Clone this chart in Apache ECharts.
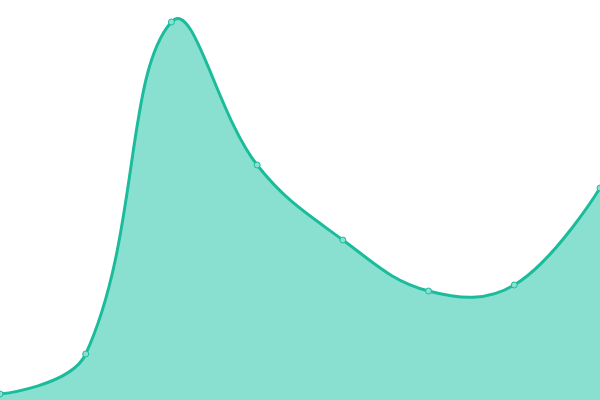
<!DOCTYPE html>
<html><head><meta charset="utf-8">
<script src="https://cdn.jsdelivr.net/npm/echarts@6/dist/echarts.min.js"></script>
<style>html,body{margin:0;padding:0;background:#fff}#c{width:600px;height:400px}</style>
</head><body><div id="c"></div>
<script>
const categories = ['1','2','3','4','5','6','7','8'];
const values = [6, 46, 378, 235, 160, 109, 115, 212];

function bezierPath(pts, smooth) {
  const n = pts.length, cps = [];
  for (let i = 0; i < n; i++) {
    if (i === 0 || i === n - 1) { cps.push(pts[i].slice()); continue; }
    const p = pts[i], a = pts[i - 1], b = pts[i + 1];
    const vx = (b[0] - a[0]) * smooth, vy = (b[1] - a[1]) * smooth;
    let d0 = Math.hypot(p[0] - a[0], p[1] - a[1]);
    let d1 = Math.hypot(p[0] - b[0], p[1] - b[1]);
    const s = d0 + d1; if (s) { d0 /= s; d1 /= s; }
    cps.push([p[0] - vx * d0, p[1] - vy * d0]);
    cps.push([p[0] + vx * d1, p[1] + vy * d1]);
  }
  let d = 'M' + pts[0][0] + ' ' + pts[0][1];
  for (let i = 0; i < n - 1; i++) {
    const c0 = cps[2 * i], c1 = cps[2 * i + 1], e = pts[i + 1];
    d += ' C' + c0[0] + ' ' + c0[1] + ' ' + c1[0] + ' ' + c1[1] + ' ' + e[0] + ' ' + e[1];
  }
  return d;
}

const chart = echarts.init(document.getElementById('c'));
chart.setOption({
  animation: false,
  grid: {left: 0, right: 0, top: 0, bottom: 0},
  xAxis: {type: 'category', data: categories, boundaryGap: false, show: false},
  yAxis: {type: 'value', min: 0, max: 400, show: false},
  series: [{
    type: 'custom',
    z: 1,
    data: [0],
    renderItem: function (params, api) {
      const pts = values.map((v, i) => api.coord([i, v]));
      const base0 = api.coord([0, 0]), base1 = api.coord([values.length - 1, 0]);
      const line = bezierPath(pts, 0.4);
      const area = line + ' L' + base1[0] + ' ' + base1[1] + ' L' + base0[0] + ' ' + base0[1] + ' Z';
      return {
        type: 'group',
        children: [
          {type: 'path', shape: {pathData: area}, style: {fill: '#8ae0d0', stroke: null}},
          {type: 'path', shape: {pathData: line}, style: {fill: null, stroke: '#1abc9c', lineWidth: 3}}
        ]
      };
    }
  }, {
    type: 'line',
    z: 3,
    data: values,
    symbol: 'circle',
    symbolSize: 6,
    itemStyle: {color: '#8ce0d0', borderColor: '#1abc9c', borderWidth: 1},
    lineStyle: {width: 0, opacity: 0}
  }]
});
</script></body></html>
